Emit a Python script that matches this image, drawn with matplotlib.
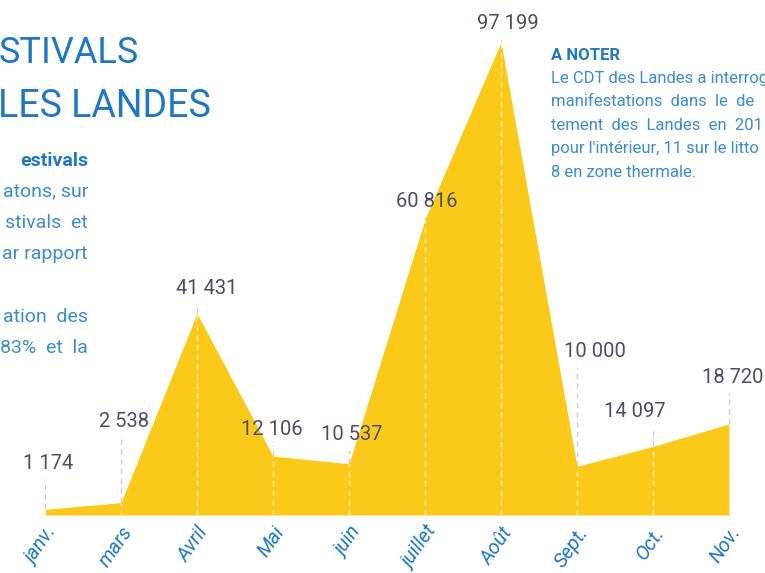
import matplotlib.pyplot as plt
import numpy as np

plt.rcParams["font.family"] = ["Roboto", "DejaVu Sans"]

months = ["janv.", "mars", "Avril", "Mai", "juin", "juillet", "Août", "Sept.", "Oct.", "Nov."]
visitors = [1174, 2538, 41431, 12106, 10537, 60816, 97199, 10000, 14097, 18720]
labels = ["1 174", "2 538", "41 431", "12 106", "10 537", "60 816", "97 199", "10 000", "14 097", "18 720"]

# label offsets from each point, in pixels (layout only)
label_dx = [3, 3, 10, -1, 3, 2, 7, 18, -18, 4]
label_dy = [36, 72, 15, 17, 20, 8, 9, 105, 25, 37]

yellow = "#fbc91a"
blue = "#1f78c4"
light_blue = "#3a8ccf"
num_color = "#485067"

W, H = 765, 573
fig = plt.figure(figsize=(W / 100, H / 100), dpi=100, facecolor="white")
ax_l, ax_r, ax_b, ax_t = 45, 729, 515, 42
ax = fig.add_axes([ax_l / W, (H - ax_b) / H, (ax_r - ax_l) / W, (ax_b - ax_t) / H])

x = np.arange(len(months))
ax.fill_between(x, visitors, color=yellow, lw=0, zorder=1)
ax.set_xlim(0, len(months) - 1)
ax.set_ylim(0, max(visitors))

units_per_px = max(visitors) / (ax_b - ax_t)
for xi, v, lab, dx, dy in zip(x, visitors, labels, label_dx, label_dy):
    top = v + (dy - 6) * units_per_px
    ax.plot([xi, xi], [0, min(v, top)], color="white", lw=1, ls=(0, (4, 3)), alpha=0.6, zorder=2)
    if top > v:
        ax.plot([xi, xi], [v, top], color="#cfcfd8", lw=1, ls=(0, (4, 3)), zorder=2, clip_on=False)
    ax.annotate(lab, (xi, v), xytext=(dx, dy), textcoords="offset pixels",
                ha="center", va="bottom", fontsize=14.5,
                color=num_color, annotation_clip=False)

ax.set_xticks(x)
ax.set_xticklabels(months, rotation=55, ha="right", va="top", rotation_mode="anchor",
                   fontsize=14.5, color=blue, style="italic")
ax.tick_params(axis="x", length=0, pad=6)
ax.set_yticks([])
for s in ax.spines.values():
    s.set_visible(False)
ax.patch.set_alpha(0)

# left title block (cut by the page edge)
fig.text(139 / W, 1 - 63 / H, "STIVALS", fontsize=26, color=blue, ha="right", va="baseline")
fig.text(-2 / W, 1 - 117 / H, "LES LANDES", fontsize=27, color=blue, ha="left", va="baseline")

body = [("estivals", 166, "bold"), ("atons, sur", 197, "normal"), ("stivals  et", 228, "normal"),
        ("ar rapport", 259, "normal"), ("ation  des", 322, "normal"), ("83%  et  la", 353, "normal")]
for txt, yb, wt in body:
    fig.text(88 / W, 1 - yb / H, txt, fontsize=14, color=light_blue if wt == "normal" else blue,
             weight=wt, ha="right", va="baseline")

# note on the right
fig.text(551 / W, 1 - 60 / H, "A NOTER", fontsize=12, color=blue, weight="bold", va="baseline")
note = ["Le CDT des Landes a interrog", "manifestations  dans  le  de",
        "tement  des  Landes  en  201", "pour l'intérieur, 11 sur le litto",
        "8 en zone thermale."]
for i, line in enumerate(note):
    fig.text(551 / W, 1 - (83 + 23.5 * i) / H, line, fontsize=12,
             color=light_blue, va="baseline")

plt.savefig("out.png", dpi=100, facecolor="white")
